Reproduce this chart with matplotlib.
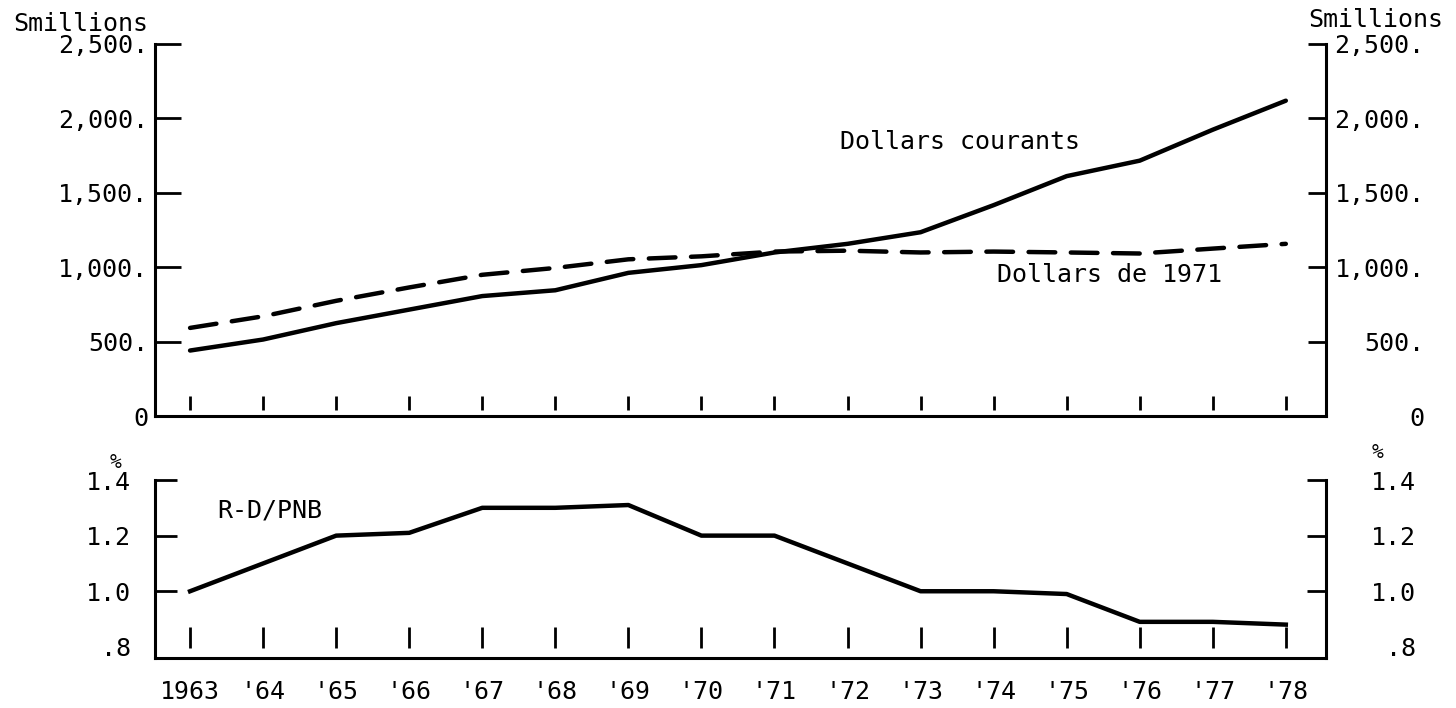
import numpy as np
import matplotlib
matplotlib.use('Agg')
import matplotlib.pyplot as plt

# --- DATA ---
years = [1963, 1964, 1965, 1966, 1967, 1968, 1969, 1970,
         1971, 1972, 1973, 1974, 1975, 1976, 1977, 1978]
year_labels = ['1963', "'64", "'65", "'66", "'67", "'68", "'69", "'70",
               "'71", "'72", "'73", "'74", "'75", "'76", "'77", "'78"]

# R-D spending, $ millions
courants = [440, 514, 624, 715, 806, 845, 962, 1014,
            1099, 1157, 1235, 1417, 1612, 1716, 1924, 2119]
const_1971 = [592, 670, 774, 864, 949, 995, 1053, 1073,
              1105, 1111, 1099, 1105, 1099, 1092, 1125, 1157]

# R-D / PNB, %
ratio = [1.0, 1.1, 1.2, 1.21, 1.3, 1.3, 1.31, 1.2,
         1.2, 1.1, 1.0, 1.0, 0.99, 0.89, 0.89, 0.88]

top_ticks = [0, 500, 1000, 1500, 2000, 2500]
top_labels = ['0', '500.', '1,000.', '1,500.', '2,000.', '2,500.']
bot_ticks = [1.0, 1.2, 1.4]
bot_labels = ['1.0', '1.2', '1.4']
bot_low = [0.8]
bot_low_label = ['.8']

plt.rcParams['font.family'] = ['DejaVu Sans Mono', 'DejaVu Sans']
FS = 18

fig = plt.figure(figsize=(14.56, 7.08), dpi=100)
W, H = 1456, 708

def px_axes(left, top, right, bottom):
    return fig.add_axes([left / W, 1 - bottom / H, (right - left) / W, (bottom - top) / H])

ax1 = px_axes(155, 44, 1326, 416)
ax2 = px_axes(155, 480, 1326, 658)

xlim = (1962.52, 1978.55)

# ==========================================================
# TOP PANEL
# ==========================================================
ax1.plot(years, courants, color='black', lw=3.2, solid_capstyle='round')
ax1.plot(years, const_1971, color='black', lw=3.2, linestyle=(0, (6, 3.5)),
         dash_capstyle='round')

ax1.set_xlim(*xlim)
ax1.set_ylim(0, 2500)
ax1.set_xticks([])
ax1.set_yticks(top_ticks)
ax1.set_yticklabels(top_labels, fontsize=FS)
ax1.tick_params(axis='y', direction='in', length=19, width=2, pad=5)
ax1.spines['top'].set_visible(False)
for s in ['left', 'right', 'bottom']:
    ax1.spines[s].set_linewidth(2.2)

ax1r = ax1.twinx()
ax1r.set_ylim(0, 2500)
ax1r.set_yticks(top_ticks)
ax1r.set_yticklabels(top_labels, fontsize=FS, ha='right')
ax1r.tick_params(axis='y', direction='in', length=13, width=2, pad=71)
ax1r.spines['top'].set_visible(False)

ax1.vlines(years, 0.016, 0.055, transform=ax1.get_xaxis_transform(),
           color='black', lw=2)

ax1.text(1971.9, 1840, 'Dollars courants', fontsize=FS, va='center', ha='left')
ax1.text(1974.05, 949, 'Dollars de 1971', fontsize=FS, va='center', ha='left')

fig.text(148 / W, 1 - 24 / H, 'Smillions', fontsize=FS, ha='right', va='center')
fig.text(1443 / W, 1 - 20 / H, 'Smillions', fontsize=FS, ha='right', va='center')

# ==========================================================
# BOTTOM PANEL
# ==========================================================
ax2.plot(years, ratio, color='black', lw=3.2)
ax2.set_xlim(*xlim)
ax2.set_ylim(0.76, 1.4)
ax2.set_xticks(years)
ax2.set_xticklabels(year_labels, fontsize=FS)
ax2.tick_params(axis='x', length=0, pad=16)
ax2.set_yticks(bot_ticks)
ax2.set_yticklabels(bot_labels, fontsize=FS)
ax2.set_yticks(bot_low, minor=True)
ax2.set_yticklabels(bot_low_label, minor=True, fontsize=FS)
ax2.tick_params(axis='y', which='major', direction='in', length=16, width=2, pad=17)
ax2.tick_params(axis='y', which='minor', length=0, pad=17)
ax2.spines['top'].set_visible(False)
for s in ['left', 'right', 'bottom']:
    ax2.spines[s].set_linewidth(2.2)

ax2r = ax2.twinx()
ax2r.set_ylim(0.76, 1.4)
ax2r.set_yticks(bot_ticks)
ax2r.set_yticklabels(bot_labels, fontsize=FS, ha='right')
ax2r.set_yticks(bot_low, minor=True)
ax2r.set_yticklabels(bot_low_label, minor=True, fontsize=FS, ha='right')
ax2r.tick_params(axis='y', which='major', direction='in', length=14, width=2, pad=65)
ax2r.tick_params(axis='y', which='minor', length=0, pad=65)
ax2r.spines['top'].set_visible(False)

ax2.vlines(years, 0.056, 0.174, transform=ax2.get_xaxis_transform(),
           color='black', lw=2)

ax2.text(1963.37, 1.29, 'R-D/PNB', fontsize=FS, va='center', ha='left')

fig.text(116 / W, 1 - 462 / H, '%', fontsize=14, ha='center', va='center')
fig.text(1377 / W, 1 - 453 / H, '%', fontsize=14, ha='center', va='center')

fig.savefig('out.png', dpi=100, facecolor='white')
